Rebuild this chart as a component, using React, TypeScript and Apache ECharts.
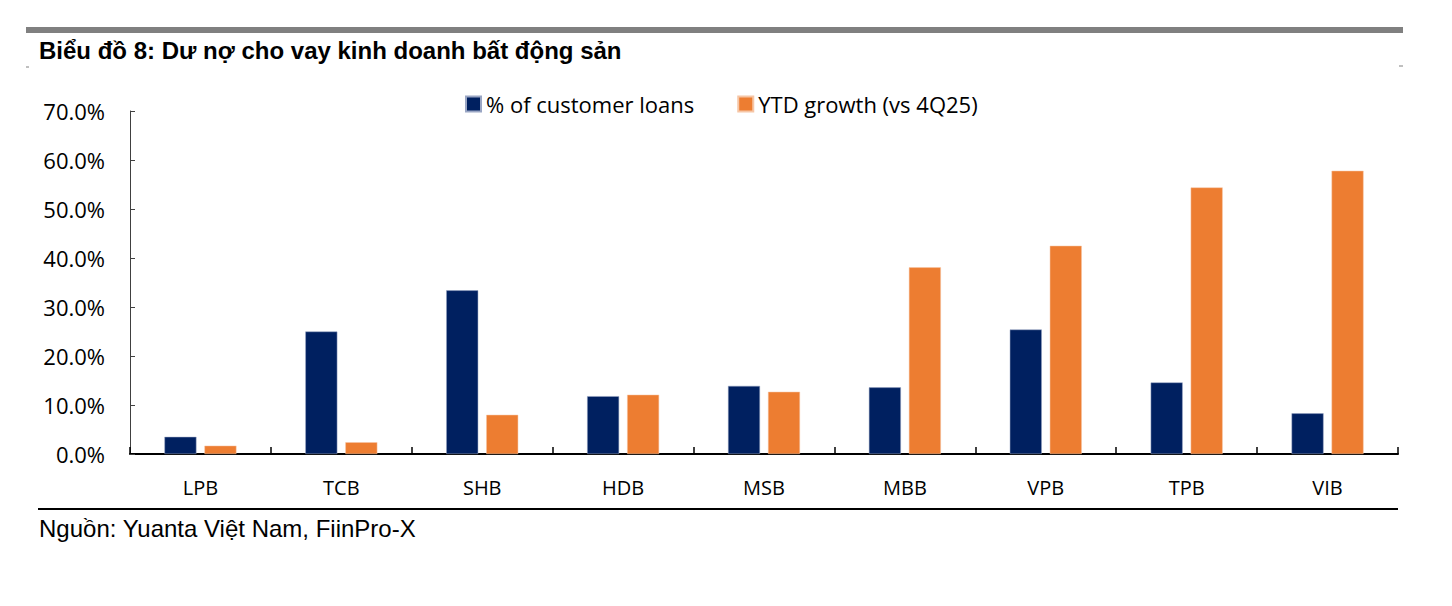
import React, { useEffect, useRef } from "react";
import * as echarts from "echarts";

const banks = ["LPB", "TCB", "SHB", "HDB", "MSB", "MBB", "VPB", "TPB", "VIB"];
const loanShare = [3.5, 25.0, 33.4, 11.8, 13.9, 13.6, 25.4, 14.6, 8.3];
const ytdGrowth = [1.7, 2.4, 8.0, 12.1, 12.7, 38.1, 42.5, 54.4, 57.8];
const seriesNames = ["% of customer loans", "YTD growth (vs 4Q25)"];

const NAVY = "#002060";
const ORANGE = "#ED7D31";
const AXIS_FONT = "Open Sans";

const App: React.FC = () => {
  const chartRef = useRef<HTMLDivElement>(null);

  useEffect(() => {
    document.body.style.margin = "0";
    if (!chartRef.current) return;
    const chart = echarts.init(chartRef.current, undefined, { renderer: "svg" });

    const option: echarts.EChartsCoreOption = {
      animation: false,
      backgroundColor: "#ffffff",
      title: [
        {
          text: "Biểu đồ 8: Dư nợ cho vay kinh doanh bất động sản",
          left: 34,
          top: 33,
          textStyle: {
            fontFamily: "Liberation Sans",
            fontWeight: "bold",
            fontSize: 24,
            color: "#000000",
          },
        },
        {
          text: "Nguồn: Yuanta Việt Nam, FiinPro-X",
          left: 34,
          top: 511,
          textStyle: {
            fontFamily: "Liberation Sans",
            fontWeight: "normal",
            fontSize: 24,
            color: "#000000",
          },
        },
      ],
      graphic: [
        // grey band on top
        { type: "rect", shape: { x: 26, y: 27, width: 1377, height: 6 }, style: { fill: "#808080" } },
        // small marks under the title
        { type: "line", shape: { x1: 26, y1: 67, x2: 29, y2: 67 }, style: { stroke: "#808080", lineWidth: 1 } },
        { type: "line", shape: { x1: 1399, y1: 66, x2: 1403, y2: 66 }, style: { stroke: "#808080", lineWidth: 1 } },
        // separator above the source
        { type: "line", shape: { x1: 38, y1: 509, x2: 1398, y2: 509 }, style: { stroke: "#000000", lineWidth: 2 } },
      ],
      legend: {
        data: seriesNames,
        left: 460,
        top: 88,
        itemWidth: 15,
        itemHeight: 15,
        itemGap: 43,
        icon: "rect",
        textStyle: { fontFamily: AXIS_FONT, fontSize: 22, color: "#000000" },
      },
      grid: { left: 130, right: 54, top: 111, height: 343, containLabel: false },
      xAxis: {
        type: "category",
        data: banks,
        axisLine: { lineStyle: { color: "#000000", width: 2 } },
        axisTick: { show: true, inside: true, length: 7, alignWithLabel: false, lineStyle: { color: "#000000", width: 1.5 } },
        axisLabel: { fontFamily: AXIS_FONT, fontSize: 20, fontWeight: 500, color: "#000000", margin: 23 },
      },
      yAxis: {
        type: "value",
        min: 0,
        max: 70,
        interval: 10,
        axisLine: { show: true, lineStyle: { color: "#404040", width: 1 } },
        axisTick: { show: true, inside: true, length: 5, lineStyle: { color: "#404040" } },
        splitLine: { show: false },
        axisLabel: {
          fontFamily: AXIS_FONT,
          fontSize: 22,
          color: "#000000",
          margin: 25,
          formatter: (v: number) => v.toFixed(1) + "%",
        },
      },
      series: [
        {
          name: seriesNames[0],
          type: "bar",
          data: loanShare,
          barWidth: 32,
          barGap: "25%",
          itemStyle: { color: NAVY, borderColor: "#9aa6c4", borderWidth: 0.5 },
        },
        {
          name: seriesNames[1],
          type: "bar",
          data: ytdGrowth,
          barWidth: 32,
          barGap: "25%",
          itemStyle: { color: ORANGE, borderColor: "#f6c6a6", borderWidth: 0.5 },
        },
      ],
    };

    chart.setOption(option);
    return () => {
      chart.dispose();
    };
  }, []);

  return <div ref={chartRef} style={{ width: "1452px", height: "606px" }} />;
};

export default App;
